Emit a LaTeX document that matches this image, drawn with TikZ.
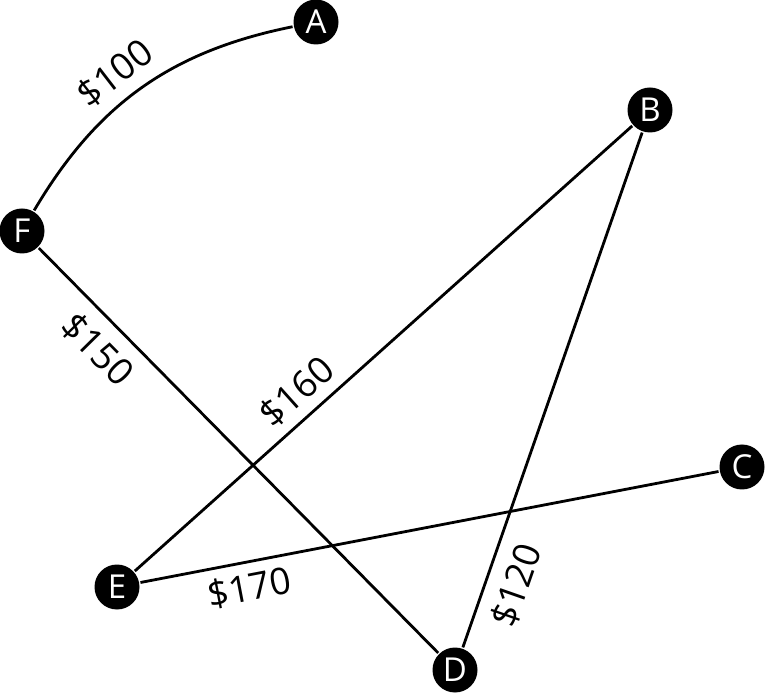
\documentclass[tikz,border=0pt]{standalone}
\usepackage{fontspec}
\setmainfont{Open Sans}

\begin{document}
\begin{tikzpicture}[x=1pt, y=-1pt, line width=2.8pt,
		vertex/.style={circle, fill=black, text=white, inner sep=0pt, minimum size=45pt, font=\fontsize{33}{33}\selectfont},
		cost/.style={font=\fontsize{37}{37}\selectfont, sloped, inner sep=9pt}]
			\useasboundingbox (0,0) rectangle (769,700);
			
			% Cities
			\node[vertex] (A) at (316,22) {A};
			\node[vertex] (B) at (650,110) {B};
			\node[vertex] (C) at (742,467) {C};
			\node[vertex] (D) at (455,670) {D};
			\node[vertex] (E) at (117,587) {E};
			\node[vertex] (F) at (22,231) {F};
			
			% Routes
			\draw (F) to[bend left=24] node[cost, pos=0.46, above, inner sep=11pt] {\$100} (A);
			\draw (F) -- node[cost, pos=0.2, below, inner sep=13pt] {\$150} (D);
			\draw (E) -- node[cost, pos=0.36, above] {\$160} (B);
			\draw (E) -- node[cost, pos=0.18, below] {\$170} (C);
			\draw (D) -- node[cost, pos=0.14, below, inner sep=13pt] {\$120} (B);
		\end{tikzpicture}
\end{document}
